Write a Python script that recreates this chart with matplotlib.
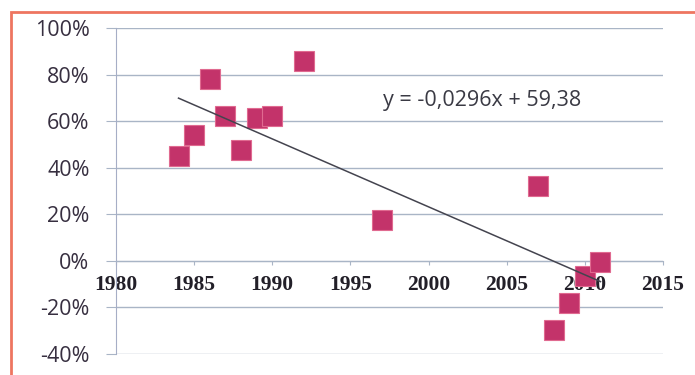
import numpy as np
import matplotlib.pyplot as plt
from matplotlib.patches import Rectangle

# Data (share in %)
years = [1984, 1985, 1986, 1987, 1988, 1989, 1990, 1992, 1997, 2007, 2008, 2009, 2010, 2011]
values = [45, 54, 78, 62, 47.5, 61.5, 62, 86, 17.5, 32, -29.5, -18, -6.5, -0.5]
y_ticks = [-40, -20, 0, 20, 40, 60, 80, 100]
x_ticks = [1980, 1985, 1990, 1995, 2000, 2005, 2010, 2015]
equation = "y = -0,0296x + 59,38"

fig = plt.figure(figsize=(6.95, 3.75), dpi=100)
fig.patch.set_facecolor("white")

# orange frame (only top and left edges are visible in the scan)
frame = Rectangle((11 / 695, -0.2), 1.2, 1.2 - 12 / 375,
                  transform=fig.transFigure, fill=False,
                  edgecolor="#ee7560", linewidth=2)
fig.patches.append(frame)

ax = fig.add_axes([116 / 695, 1 - 354 / 375, (663 - 116) / 695, (354 - 28) / 375])

grid_col = "#a9b5c6"

# markers
ax.plot(years, values, linestyle="none", marker="s", markersize=15,
        markerfacecolor="#c3336a", markeredgecolor="#e06a90",
        markeredgewidth=0.8, zorder=3, clip_on=False)

# linear trend line
coef = np.polyfit(years, values, 1)
xs = np.array([min(years), max(years)])
ax.plot(xs, np.polyval(coef, xs), color="#44444f", linewidth=1.1, zorder=4)

ax.text(1997.1, 69, equation, fontsize=15.5, family="Open Sans",
        color="#3a3a44", va="center", ha="left")

ax.set_xlim(1980, 2015)
ax.set_ylim(-40, 100)
ax.set_xticks(x_ticks)
ax.set_yticks(y_ticks)
ax.set_yticklabels([f"{v}%" for v in y_ticks])

ax.yaxis.grid(True, color=grid_col, linewidth=1)
ax.set_axisbelow(True)

for s in ["top", "right"]:
    ax.spines[s].set_visible(False)
ax.spines["left"].set_color("#a6aec6")
ax.spines["bottom"].set_position(("data", 0))
ax.spines["bottom"].set_color(grid_col)

ax.tick_params(axis="y", length=7, color=grid_col, pad=12,
               labelsize=15.5, labelcolor="#372f40")
ax.tick_params(axis="x", length=3, color=grid_col, pad=7,
               labelsize=15.5, labelcolor="#221f28")
for lab in ax.get_yticklabels():
    lab.set_family("Open Sans")
for lab in ax.get_xticklabels():
    lab.set_family("Liberation Serif")
    lab.set_fontweight("bold")

fig.savefig("out.png", dpi=100)
